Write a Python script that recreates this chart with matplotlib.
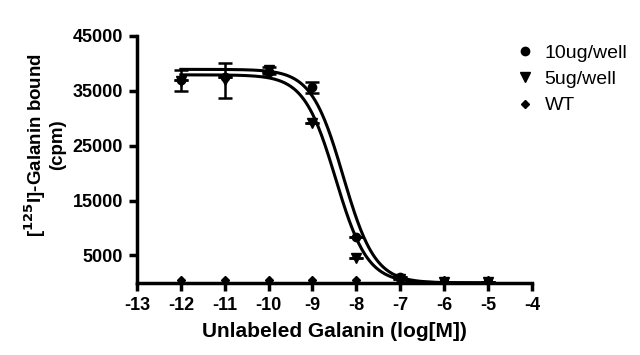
import numpy as np
import matplotlib.pyplot as plt
from matplotlib.lines import Line2D

plt.rcParams['font.family'] = ['Liberation Sans', 'DejaVu Sans']
plt.rcParams['font.weight'] = 'bold'
plt.rcParams['axes.unicode_minus'] = False

# data
log_conc = [-12, -11, -10, -9, -8, -7, -6, -5]
well10 = [37000, 37500, 38500, 35600, 8300, 1000, 200, 200]
well10_err = [0, 0, 0, 950, 0, 0, 0, 0]
well5 = [36800, 36900, 38700, 29200, 4600, 800, 200, 200]
well5_err = [1900, 3200, 700, 0, 0, 0, 0, 0]
wt = [500, 500, 500, 500, 500, 500, 500, 500]

# fitted one-site curves: top, bottom, logIC50, hill slope
fit10 = [38900, 0, -8.3, 1.2]
fit5 = [37900, 0, -8.47, 1.2]

fig = plt.figure(figsize=(6.4, 3.55), dpi=100)
ax = fig.add_axes([0.214, 0.203, 0.617, 0.696])

xs = np.linspace(-12, -5, 300)
for top, bot, ic, h in (fit10, fit5):
    ax.plot(xs, bot + (top - bot) / (1 + 10 ** (h * (xs - ic))), color='black', lw=2.2, zorder=2)

ax.errorbar(log_conc, well10, yerr=well10_err, fmt='o', color='black', ms=6,
            capsize=5, elinewidth=1.8, capthick=1.8, zorder=3)
ax.errorbar(log_conc, well5, yerr=well5_err, fmt='v', color='black', ms=7,
            capsize=5, elinewidth=1.8, capthick=1.8, zorder=3)
ax.plot(log_conc, wt, 'D', color='black', ms=4.5, zorder=3)

ax.set_xlim(-13, -4)
ax.set_ylim(0, 45000)
ax.set_xticks(range(-13, -3))
ax.set_yticks([5000, 15000, 25000, 35000, 45000])
for s in ['top', 'right']:
    ax.spines[s].set_visible(False)
for s in ['left', 'bottom']:
    ax.spines[s].set_linewidth(2.5)
ax.tick_params(axis='both', width=2.5, length=6, labelsize=13, pad=4)

ax.set_xlabel('Unlabeled Galanin (log[M])', fontsize=15, fontweight='bold', labelpad=6)
ax.set_ylabel('[$^{\\mathbf{125}}$I]-Galanin bound\n(cpm)', fontsize=13.5,
              fontweight='bold', linespacing=1.1)
ax.yaxis.set_label_coords(-0.18, 0.56)

labels = ['10ug/well', '5ug/well', 'WT']
handles = [Line2D([], [], ls='none', marker='o', color='black', ms=6),
           Line2D([], [], ls='none', marker='v', color='black', ms=7),
           Line2D([], [], ls='none', marker='D', color='black', ms=4.5)]
fig.legend(handles, labels, loc='upper left', bbox_to_anchor=(0.778, 0.925),
           frameon=False, prop={'size': 14, 'weight': 'normal'},
           handletextpad=0.5, labelspacing=0.45, handlelength=1.0)

fig.savefig('out.png', dpi=100)
